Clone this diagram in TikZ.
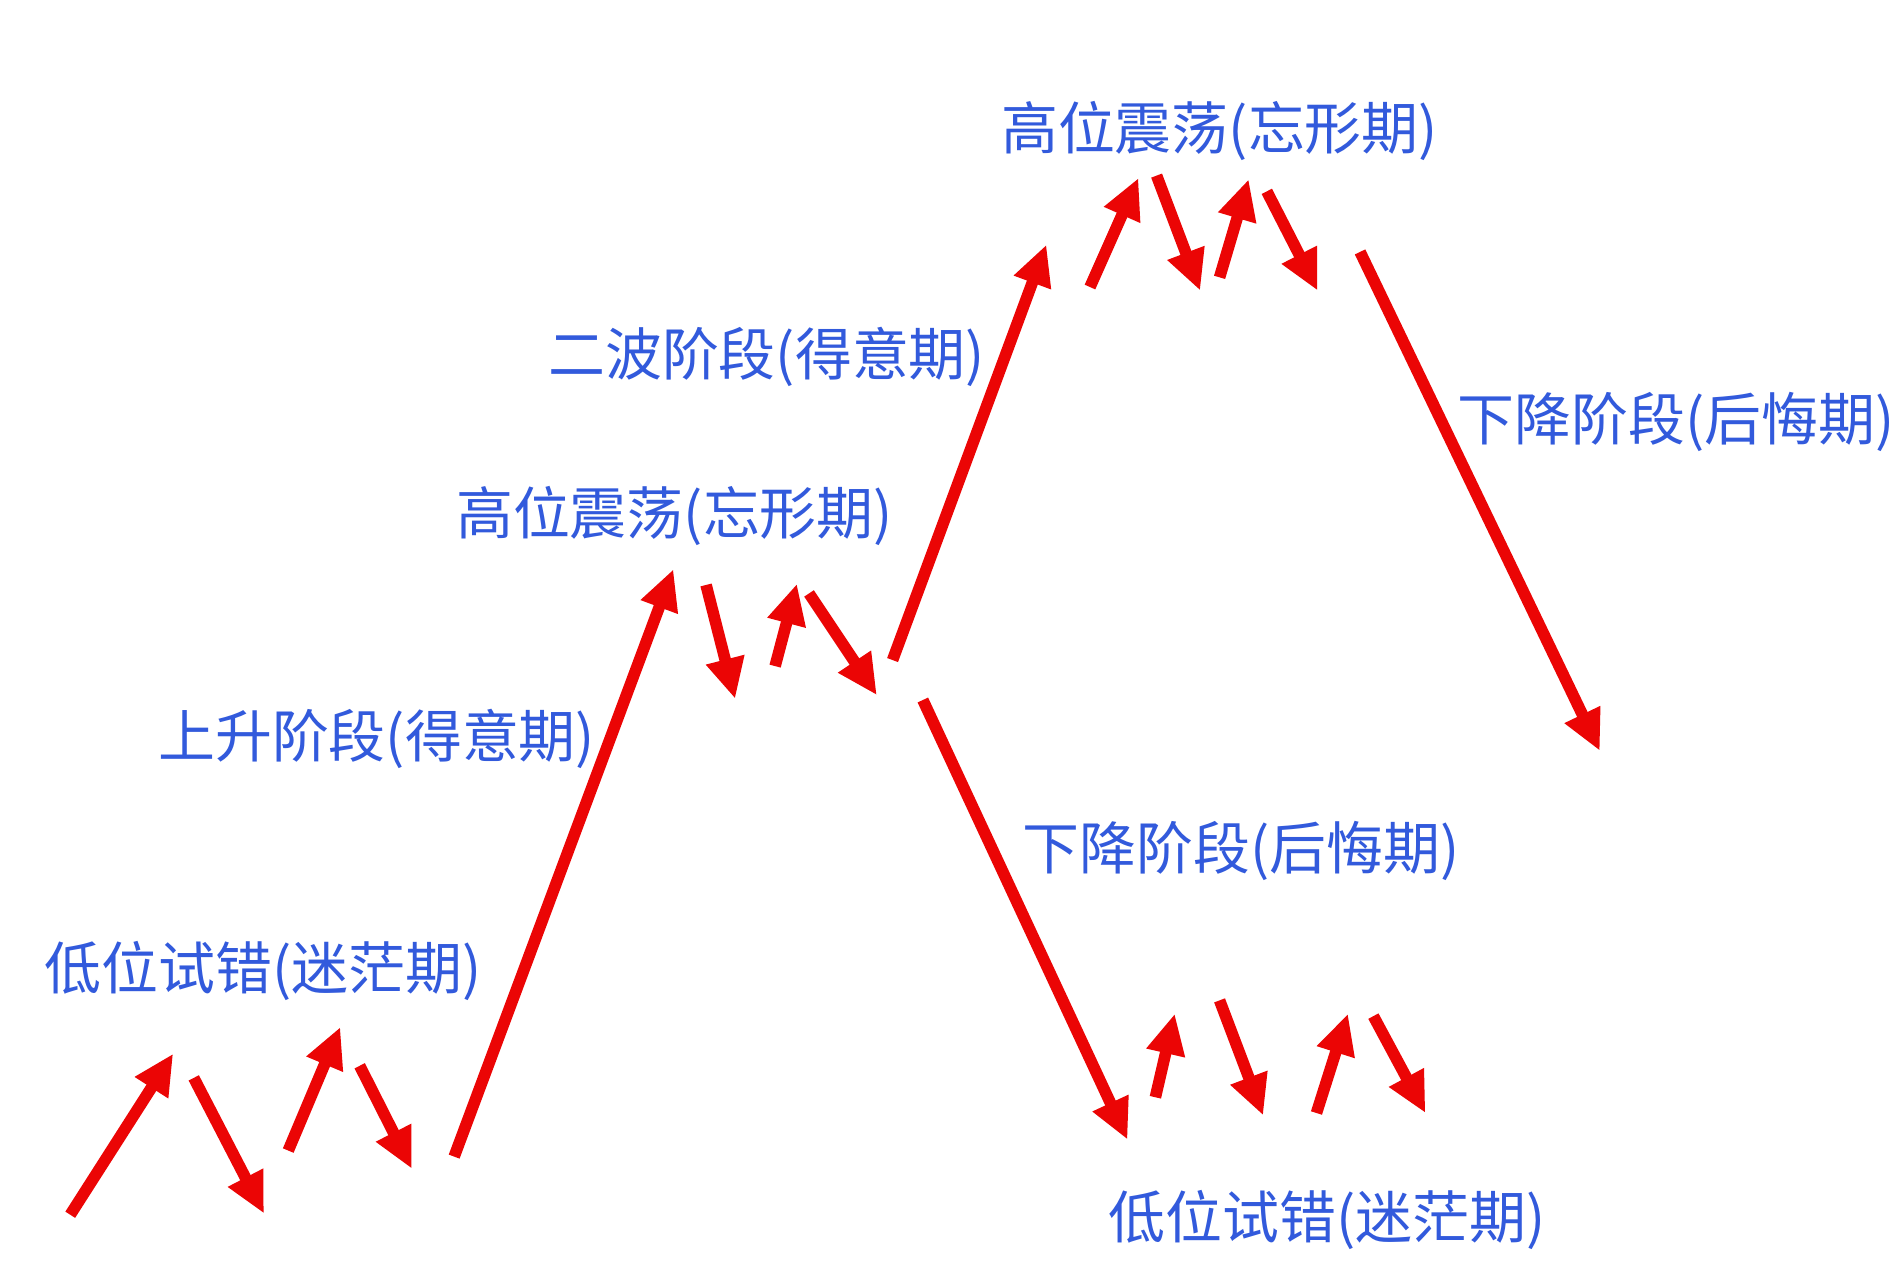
\documentclass[tikz,border=0pt]{standalone}
\usepackage{xcolor}
\definecolor{arrowred}{RGB}{235,5,5}
\definecolor{labelblue}{RGB}{50,90,220}
\usepackage{fontspec}
\setmainfont{Noto Sans CJK SC}
\usepackage{tikz}
\usetikzlibrary{arrows.meta}

\begin{document}
\begin{tikzpicture}[x=0.01211cm,y=-0.01211cm,
    trend/.style={arrowred,line width=3.3pt,-{Triangle[length=11.5pt,width=10.5pt]}},
    phase/.style={labelblue,font=\fontsize{16.2}{19}\selectfont,inner sep=0pt}]
            % Canvas
            \fill[white] (0,0) rectangle (1568,1057);
            \useasboundingbox (0,0) rectangle (1568,1057);
            % Low trial and error
            \coordinate (l1) at (58,1003);   \coordinate (l1h) at (143,870);
            \coordinate (l2) at (160,890);   \coordinate (l2h) at (218,1002);
            \coordinate (l3) at (238,950);   \coordinate (l3h) at (281,848);
            \coordinate (l4) at (297,880);   \coordinate (l4h) at (340,965);
            % Rise
            \coordinate (r1) at (375,955);   \coordinate (r1h) at (556,470);
            % First high range
            \coordinate (m1) at (583,483);   \coordinate (m1h) at (607,577);
            \coordinate (m2) at (640,550);   \coordinate (m2h) at (658,482);
            \coordinate (m3) at (668,490);   \coordinate (m3h) at (724,574);
            % Second wave
            \coordinate (w1) at (737,545);   \coordinate (w1h) at (864,202);
            % Second high range
            \coordinate (t1) at (900,237);   \coordinate (t1h) at (940,147);
            \coordinate (t2) at (955,145);   \coordinate (t2h) at (991,240);
            \coordinate (t3) at (1007,229);  \coordinate (t3h) at (1031,148);
            \coordinate (t4) at (1046,158);  \coordinate (t4h) at (1088,240);
            % Falls
            \coordinate (f1) at (1123,208);  \coordinate (f1h) at (1321,620);
            \coordinate (f2) at (762,578);   \coordinate (f2h) at (931,941);
            % Second low range
            \coordinate (b1) at (954,906);   \coordinate (b1h) at (970,837);
            \coordinate (b2) at (1007,826);  \coordinate (b2h) at (1043,921);
            \coordinate (b3) at (1087,919);  \coordinate (b3h) at (1113,837);
            \coordinate (b4) at (1134,839);  \coordinate (b4h) at (1177,919);
            % Arrows
            \foreach \p in {l1,l2,l3,l4,r1,m1,m2,m3,w1,t1,t2,t3,t4,f1,f2,b1,b2,b3,b4}
                \draw[trend] (\p) -- (\p h);
            % Labels
            \node[phase] (lowA) at (217,802) {低位试错(迷茫期)};
            \node[phase] (riseA) at (311,610) {上升阶段(得意期)};
            \node[phase] (highA) at (557,426) {高位震荡(忘形期)};
            \node[phase] (waveB) at (633,295) {二波阶段(得意期)};
            \node[phase] (highB) at (1007,108) {高位震荡(忘形期)};
            \node[phase] (fallB) at (1384,348) {下降阶段(后悔期)};
            \node[phase] (fallA) at (1025,703) {下降阶段(后悔期)};
            \node[phase] (lowB) at (1096,1007) {低位试错(迷茫期)};
        \end{tikzpicture}
\end{document}
